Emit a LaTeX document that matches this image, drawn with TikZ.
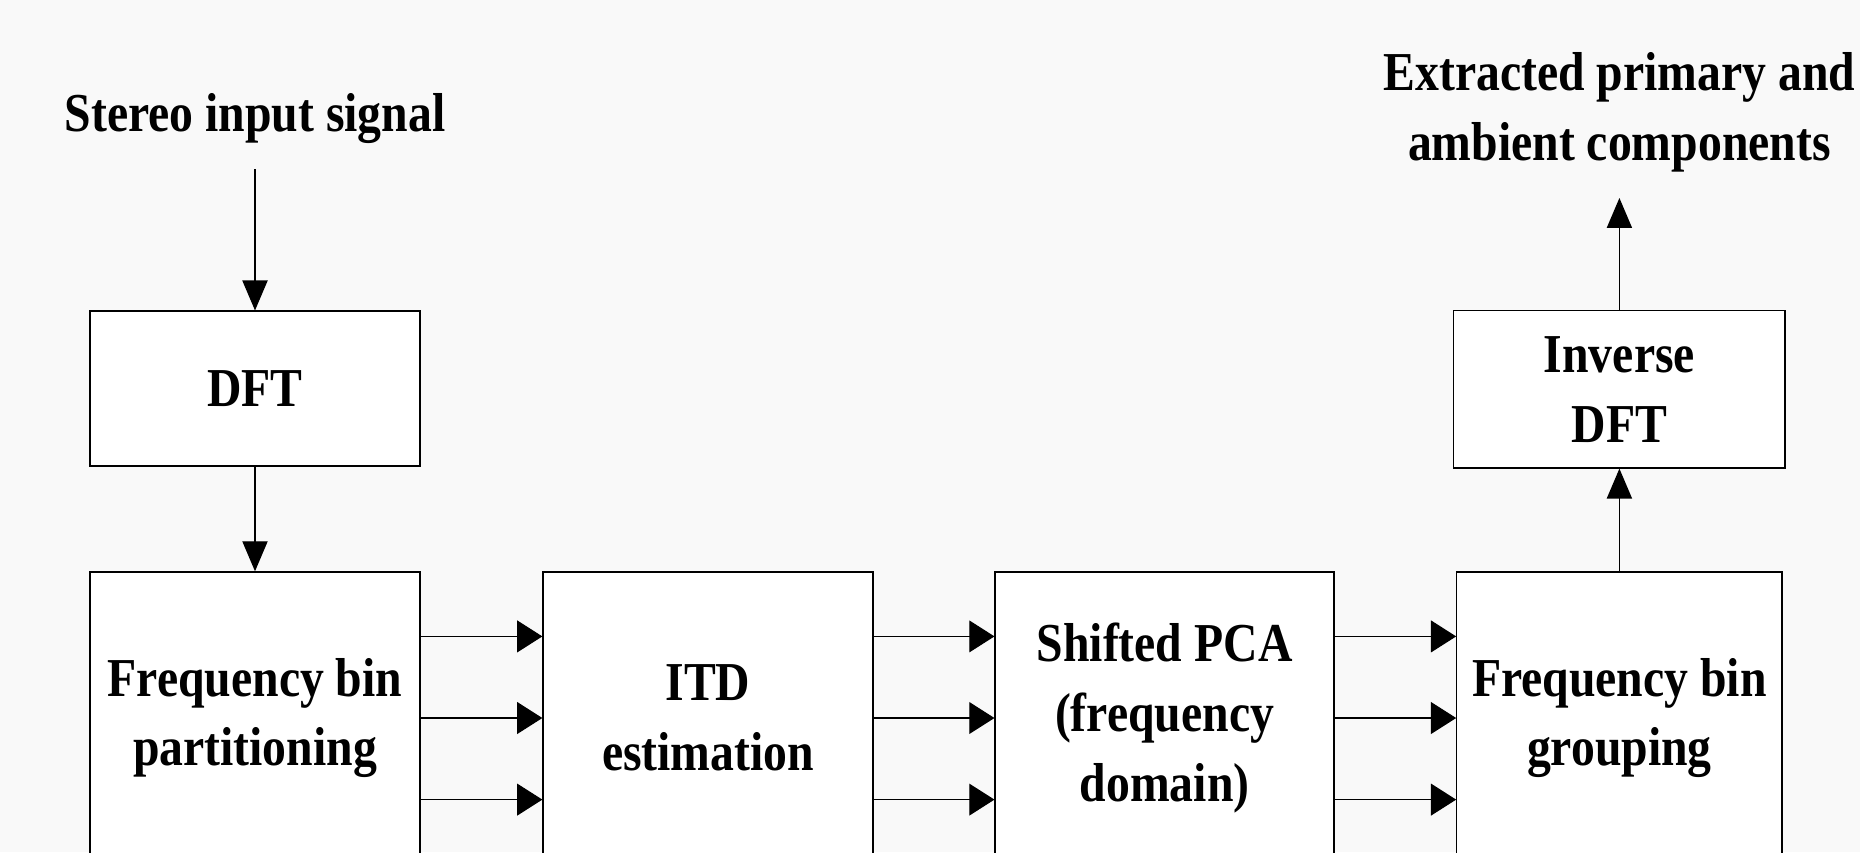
\documentclass[tikz,border=0pt]{standalone}
\usepackage{fontspec}
\setmainfont{Liberation Serif}[FakeStretch=0.87]
\usetikzlibrary{arrows.meta}

\definecolor{bgcol}{HTML}{F9F9F9}

\tikzset{
  stage/.style={draw, fill=white, line width=0.6pt, align=center,
    font=\bfseries\fontsize{26}{33}\selectfont, minimum width=5.5cm, inner sep=0pt},
  caption/.style={align=center, font=\bfseries\fontsize{26}{33}\selectfont},
  harrow/.style={line width=0.6pt, -{Triangle[length=0.42cm,width=0.53cm]}},
  varrow/.style={line width=0.6pt, -{Triangle[length=0.5cm,width=0.42cm]}}
}

\begin{document}
\begin{tikzpicture}
% page frame and background
\useasboundingbox (0,0) rectangle (31,14.2);
\clip (0,0) rectangle (31,14.2);
\fill[bgcol] (0,0) rectangle (31,14.2);

% input and output labels
\node[caption] (input) at (4.25,12.22) {Stereo input signal};
\node[caption] (output) at (26.99,12.33) {Extracted primary and\\ambient components};

% DFT / inverse DFT
\node[stage, minimum height=2.58cm] (dft) at (4.25,7.725) {DFT};
\node[stage, minimum width=5.52cm, minimum height=2.62cm] (idft) at (26.99,7.71) {Inverse\\DFT};

% processing chain (runs past the lower edge)
\node[stage, minimum height=4.87cm] (partition) at (4.25,2.233) {Frequency bin\\partitioning};
\node[stage, minimum height=4.87cm] (itd) at (11.8,2.233) {ITD\\estimation};
\node[stage, minimum width=5.65cm, minimum height=4.87cm] (spca) at (19.41,2.233) {Shifted PCA\\(frequency\\domain)};
\node[stage, minimum width=5.42cm, minimum height=4.87cm] (grouping) at (26.99,2.233) {Frequency bin\\grouping};

% vertical flow
\coordinate (in) at (4.25,11.38);
\coordinate (out) at (26.99,10.9);
\draw[varrow] (in) -- (dft);
\draw[varrow] (dft) -- (partition);
\draw[varrow] (grouping) -- (idft);
\draw[varrow] (idft) -- (out);

% three bins between neighbouring stages
\foreach \a/\b in {partition/itd, itd/spca, spca/grouping}
  \foreach \dy in {1.36,0,-1.36}
    \draw[harrow] ([yshift=\dy cm]\a.east) -- ([yshift=\dy cm]\b.west);

\end{tikzpicture}
\end{document}
